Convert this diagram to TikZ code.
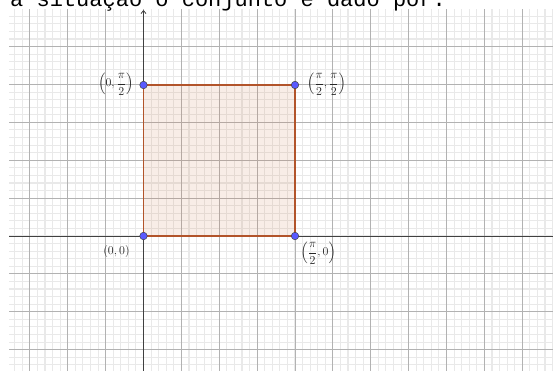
\documentclass[tikz,border=0pt]{standalone}
\usepackage{amsmath}
\usepackage{fontspec}
\newfontfamily\topfont{Liberation Mono}
\usetikzlibrary{arrows.meta}
\definecolor{minorc}{RGB}{233,233,233}
\definecolor{majorc}{RGB}{178,178,178}
\definecolor{axisc}{RGB}{64,64,64}
\definecolor{polyc}{RGB}{205,110,60}
\definecolor{edgec}{RGB}{178,84,42}
\definecolor{ptc}{RGB}{90,90,255}
\tikzset{
  minorline/.style={draw=minorc, line width=1.1pt},
  majorline/.style={draw=majorc, line width=0.9pt},
  axisline/.style={draw=axisc, line width=0.8pt},
  polyfill/.style={fill=polyc, fill opacity=0.12},
  polyedge/.style={draw=edgec, line width=1.4pt},
  ptnode/.style={circle, fill=ptc, draw=black!75, line width=0.5pt, inner sep=0pt, minimum size=7.5pt},
  lbl/.style={font=\fontsize{12}{14}\selectfont, text=black!85, inner sep=0pt},
  toptext/.style={font=\topfont\fontsize{22}{26}\selectfont, inner sep=0pt, anchor=base west},
}
\begin{document}
\begin{tikzpicture}[x=1pt,y=-1pt]
\useasboundingbox (0,0) rectangle (553,371);
\fill[white] (0,0) rectangle (553,371);
\begin{scope}
  \clip (9,10) rectangle (553,371);
  % minor grid
  \foreach \i in {-19,...,55} {
    \draw[minorline] ({143.5+\i*7.575},0) -- ({143.5+\i*7.575},371);
  }
  \foreach \j in {-31,...,18} {
    \draw[minorline] (0,{236+\j*7.575}) -- (553,{236+\j*7.575});
  }
  % major grid
  \foreach \i in {-4,...,11} {
    \draw[majorline] ({143.5+\i*37.875},0) -- ({143.5+\i*37.875},371);
  }
  \foreach \j in {-7,...,4} {
    \draw[majorline] (0,{236+\j*37.875}) -- (553,{236+\j*37.875});
  }
\end{scope}
% axes
\coordinate (xl) at (9,236);
\coordinate (xr) at (553,236);
\coordinate (yb) at (143.5,371);
\coordinate (yt) at (143.5,10);
\draw[axisline] (xl) -- (xr);
\draw[axisline, -{Straight Barb[length=3pt,width=5pt]}] (yb) -- (yt);
% square
\coordinate (A) at (143.5,236);
\coordinate (B) at (295,236);
\coordinate (C) at (295,85);
\coordinate (D) at (143.5,85);
\fill[polyfill] (A) -- (B) -- (C) -- (D) -- cycle;
\draw[polyedge] (A) -- (B) -- (C) -- (D) -- cycle;
% points
\node[ptnode] (pA) at (A) {};
\node[ptnode] (pB) at (B) {};
\node[ptnode] (pC) at (C) {};
\node[ptnode] (pD) at (D) {};
% labels
\node[lbl, anchor=east] (lD) at (133.5,84) {$\left(0,\dfrac{\pi}{2}\right)$};
\node[lbl, anchor=west] (lC) at (307,84) {$\left(\dfrac{\pi}{2},\dfrac{\pi}{2}\right)$};
\node[lbl, font=\fontsize{13}{15}\selectfont] (lA) at (116.5,251) {$(0,0)$};
\node[lbl, anchor=west] (lB) at (300.5,253) {$\left(\dfrac{\pi}{2},0\right)$};
% top text
\node[toptext] (tt) at (10,7) {a situação o conjunto é dado por:};
\end{tikzpicture}
\end{document}
